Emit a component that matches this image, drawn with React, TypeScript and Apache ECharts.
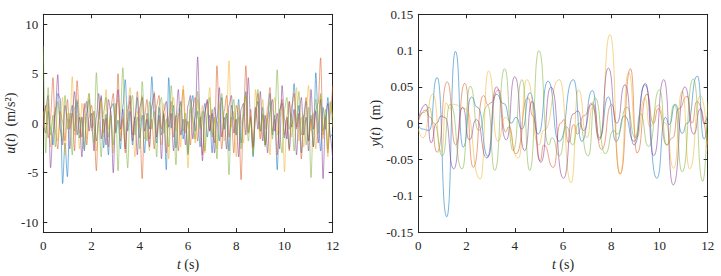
import React, { useEffect, useRef } from 'react';
import * as echarts from 'echarts';

const COLORS = ['#0072BD', '#D95319', '#EDB120', '#7E2F8E', '#77AC30'];
const RUN_NAMES = ['run 1', 'run 2', 'run 3', 'run 4', 'run 5'];
const T_TICKS = [0, 2, 4, 6, 8, 10, 12];
const U_TICKS = [-10, -5, 0, 5, 10];
const Y_TICKS = [-0.15, -0.1, -0.05, 0, 0.05, 0.1, 0.15];
const U_DT = 0.1; // sample spacing of input records (s)

// input acceleration records u(t), one value per 0.1 s from t = 0 to 12 s
const uBlue = [0.3, -1.0, 1.2, -0.5, -2.2, 0.8, 3.0, 2.5, -6.1, -2.0, -5.4, 0.5, 1.8, -0.8, 2.2, -1.5, 0.6, -2.8, 1.0, 2.4, -0.5, 1.2, -1.8, 0.4, 2.8, -2.5, 0.9, -3.2, 1.5, 2.0, -1.0, 0.3, -2.6, 1.8, 4.4, -0.8, 1.2, -2.2, 0.5, 2.6, -1.5, 0.8, -3.0, 1.0, -0.6, 4.7, 0.5, -2.0, 1.6, -1.2, 0.8, -4.7, 4.6, -0.5, 1.8, -2.5, 0.6, 2.2, -1.6, 0.4, -3.2, 1.4, 2.8, -0.8, 1.2, -2.4, 0.5, 2.0, -1.4, 0.8, -3.0, 1.6, 0.2, -1.8, 2.6, -0.6, 1.0, -2.8, 1.8, 0.4, -1.2, 2.4, -2.0, 0.8, 3.2, -1.0, 0.6, -3.4, 1.2, 2.2, -0.8, 1.6, -2.2, 0.4, 3.0, -1.2, 0.8, -4.7, 1.4, 2.0, -1.5, 0.6, -2.6, 1.0, 4.0, -0.4, 1.8, -3.0, 0.5, 2.2, -1.8, 0.8, -2.4, 5.1, 0.2, -2.8, 1.6, -0.6, 2.6, -1.4, -1.0];
const uOrange = [-0.5, 1.8, -1.5, 0.6, 4.6, -0.8, -2.6, 1.2, 0.2, -1.8, 2.4, -0.6, 1.0, -2.8, 4.3, 0.8, -1.4, 2.0, -2.2, 0.6, 1.8, -0.4, -4.8, 1.2, 2.6, -1.0, 0.5, -2.4, 1.6, 3.0, -0.8, 5.0, -1.8, 0.4, -3.0, 1.4, 2.2, -1.2, 0.6, 3.2, -0.5, -5.6, 0.8, 2.4, -1.6, 0.4, -2.6, 1.8, 2.8, -0.6, 1.0, -3.0, 0.5, 2.2, -1.4, 0.8, -2.8, 1.4, 3.4, -1.0, 0.2, -2.2, 1.6, 2.6, -1.8, 0.6, -3.2, 1.0, 2.2, -0.8, 1.4, -2.0, 5.8, 0.4, -2.6, 1.2, 2.8, -1.4, 0.6, -3.0, 1.8, 0.8, -5.7, 0.6, 5.8, -1.0, 1.4, -2.6, 0.4, 3.0, -1.6, 0.8, -2.2, 1.6, 3.6, -0.8, 0.4, -3.2, 1.2, 2.4, -1.2, 0.6, -2.8, 1.8, 3.0, -0.6, 1.0, -3.6, 0.8, 2.6, -1.8, 0.4, -2.4, 1.4, 2.0, 6.6, -1.2, 0.6, -3.0, 1.0, 3.8];
const uYellow = [1.2, -0.8, 2.0, -2.4, 0.6, 1.6, -1.8, 0.4, 2.6, -3.2, 1.0, -0.4, 4.7, -1.2, 0.8, -2.6, 2.0, 0.6, -1.6, 3.0, -0.8, 1.2, -2.8, 0.4, 2.2, -1.4, 3.4, -0.6, 0.8, -3.0, 1.6, 2.4, -1.2, 0.6, -2.4, 1.8, 3.6, -0.4, -3.4, 1.2, 0.2, 2.8, -1.6, 0.8, -2.8, 1.4, 3.2, -1.0, 0.4, -2.2, 2.0, 0.6, -3.6, 1.2, 2.6, -0.8, 1.0, -2.4, 3.8, 0.2, -4.5, 1.4, 0.6, -2.0, 2.4, -0.6, 1.8, -3.0, 0.8, 3.6, -1.2, 0.4, -2.6, 1.6, 2.2, -1.8, 0.6, 6.3, -0.4, 1.2, -3.4, 1.8, 0.4, -2.0, 2.8, -1.0, 0.8, -2.8, 3.4, 0.2, -1.6, 2.4, -0.6, 1.0, -3.2, 1.4, 2.6, -1.2, 0.6, 1.8, -4.9, 0.8, 2.2, -1.4, 0.4, 3.6, -1.8, 0.6, -2.4, 1.2, 3.8, -0.8, 1.0, -2.6, 0.4, 2.8, -1.6, 0.8, -3.4, 2.0, 0.6];
const uPurple = [-0.4, 1.6, 2.8, -4.5, -1.0, 1.2, 4.9, -0.6, -2.2, 1.8, 0.4, -2.6, 1.0, 3.2, -1.2, 0.6, -3.4, 1.4, 2.2, -0.8, 1.0, -2.8, 0.6, 3.0, -1.6, 0.4, -2.2, 2.4, 1.2, -5.0, 0.8, 3.4, -0.6, 1.4, -2.6, 0.2, 2.8, -1.8, 0.6, -3.2, 1.6, 2.6, -0.8, 0.4, -2.4, 1.8, 3.0, -1.4, 0.8, -3.6, 1.2, 2.2, -0.4, 1.0, -2.8, 0.6, 3.4, -1.2, 0.4, -2.2, 1.8, 2.8, -1.6, 0.6, 6.7, 0.8, -3.8, 1.2, 2.4, -0.8, 1.0, -3.0, 0.4, 3.6, -1.4, 0.6, -2.6, 1.8, 2.8, -1.0, 0.4, -3.4, 1.4, 2.0, -1.2, 4.6, 0.2, -2.4, 1.6, -0.6, 3.2, -1.8, 0.8, -3.0, 1.2, 2.4, -0.8, 1.0, -2.6, 3.8, 0.4, -1.6, 2.2, -0.4, 1.4, -3.2, 0.8, 2.6, -1.2, 0.6, -2.8, 3.4, -0.6, 1.2, -2.0, 2.4, -5.6, 0.6, 2.0, -1.4, -3.6];
const uGreen = [7.8, -3.0, 3.6, -1.2, 0.8, -2.4, 2.2, 0.4, -1.8, 2.8, -0.6, 1.0, -3.2, 1.6, 2.4, -1.0, 0.6, -2.6, 1.8, 3.0, -0.4, -2.0, 5.1, 0.2, -3.4, 1.2, 2.6, -1.4, 0.8, -2.2, 2.0, -4.8, 1.0, 5.6, -0.8, -4.5, 1.6, 2.8, -1.2, 0.6, -2.6, 4.2, 0.4, -1.8, 2.2, -0.6, 1.2, -3.4, 1.8, 2.6, -1.0, 0.4, -2.4, 3.8, 0.6, -4.2, 1.4, 2.0, -0.8, 1.0, -3.0, 2.4, 0.2, -1.6, 3.2, -0.4, 1.2, -2.8, 0.8, 2.6, -1.4, 0.6, -3.6, 1.8, 3.0, -0.6, 1.0, -5.2, 0.8, 2.4, -1.2, 0.6, -2.6, 1.6, 2.8, -1.8, 0.4, -3.2, 1.2, 3.4, -0.8, 1.0, -2.4, 0.6, 2.2, -1.6, 0.8, 5.4, -1.0, -3.0, 1.4, 2.6, -0.6, 1.0, -2.8, 0.4, 3.2, -1.2, 0.8, -2.2, 1.6, -5.5, 0.6, 2.4, -1.0, 3.0, -0.8, 1.4, -2.6, 2.2, -0.4];

// response records y(t): [t (s), y (m)] read at turning points
const yBlue = [[0, -0.002], [0.15, -0.008], [0.45, -0.01], [0.78, 0.063], [1.18, -0.129], [1.54, 0.099], [1.86, -0.033], [2.2, 0.036], [2.45, 0.022], [2.9, -0.046], [3.22, 0.04], [3.55, 0.027], [3.85, 0.0], [4.05, 0.008], [4.3, -0.008], [4.63, 0.042], [4.97, -0.015], [5.38, 0.058], [5.84, -0.025], [6.43, 0.06], [6.78, -0.025], [7.22, 0.045], [7.52, -0.02], [7.88, 0.036], [8.2, -0.025], [8.55, 0.01], [8.95, -0.025], [9.4, 0.053], [9.89, -0.076], [10.25, 0.008], [10.4, -0.002], [10.66, 0.026], [10.94, -0.014], [11.15, 0.0], [11.57, 0.065], [11.85, -0.022], [12, 0.002]];
const yOrange = [[0, 0.002], [0.3, 0.018], [0.5, 0.008], [0.78, -0.04], [1.2, 0.057], [1.55, -0.03], [1.93, 0.055], [2.28, -0.061], [2.7, 0.038], [2.9, 0.025], [3.0, 0.028], [3.33, 0.046], [3.62, -0.012], [3.75, -0.005], [4.05, -0.042], [4.55, 0.035], [4.75, 0.01], [5.05, -0.052], [5.2, -0.03], [5.6, -0.061], [5.9, 0.0], [6.05, 0.005], [6.22, -0.027], [6.45, -0.002], [6.6, -0.015], [6.85, 0.01], [7.22, 0.028], [7.6, -0.036], [8.02, 0.026], [8.37, -0.07], [8.8, 0.075], [9.07, -0.041], [9.48, 0.04], [9.75, 0.0], [9.95, 0.02], [10.3, -0.03], [10.55, -0.02], [10.8, 0.02], [11.15, 0.037], [11.35, 0.0], [11.55, 0.03], [12, -0.038]];
const yYellow = [[0, -0.008], [0.2, -0.02], [0.6, 0.04], [0.97, -0.04], [1.15, 0.028], [1.3, 0.02], [1.45, 0.026], [1.95, 0.02], [2.57, -0.077], [2.91, 0.072], [3.3, -0.025], [3.6, 0.008], [4.15, -0.048], [4.5, 0.06], [5.0, -0.03], [5.2, -0.01], [5.85, 0.06], [6.34, -0.082], [6.64, 0.046], [7.0, -0.02], [7.22, 0.022], [7.52, -0.02], [7.95, 0.122], [8.37, -0.07], [8.72, 0.07], [9.05, -0.02], [9.4, 0.035], [9.6, -0.005], [9.95, 0.025], [10.25, 0.0], [10.59, -0.062], [10.94, 0.044], [11.25, -0.063], [11.7, 0.038], [12, -0.03]];
const yPurple = [[0, 0.005], [0.32, 0.026], [0.53, -0.027], [0.75, 0.0], [0.95, 0.01], [1.1, 0.008], [1.47, -0.063], [1.84, 0.022], [2.12, -0.023], [2.4, 0.005], [2.85, -0.048], [3.24, 0.05], [3.65, -0.023], [4.0, 0.064], [4.41, -0.038], [4.72, 0.03], [5.08, -0.054], [5.5, 0.05], [6.02, -0.076], [6.43, 0.013], [6.62, 0.017], [6.85, -0.01], [7.2, 0.026], [7.51, -0.023], [7.88, 0.076], [8.23, 0.0], [8.57, 0.053], [8.95, -0.03], [9.42, 0.055], [9.76, -0.045], [10.18, 0.06], [10.57, -0.085], [11.05, 0.05], [11.42, -0.015], [11.7, 0.02], [11.85, 0.0], [12, 0.012]];
const yGreen = [[0, 0.008], [0.25, 0.015], [0.45, 0.022], [0.65, 0.0], [1.0, -0.045], [1.32, 0.026], [1.82, -0.063], [2.15, 0.051], [2.5, -0.01], [2.88, 0.024], [3.17, -0.065], [3.58, 0.075], [3.93, -0.038], [4.3, 0.06], [4.62, -0.065], [5.0, 0.1], [5.4, -0.03], [5.55, -0.02], [5.85, -0.045], [6.15, -0.005], [6.4, -0.03], [6.65, 0.0], [7.05, -0.045], [7.33, 0.035], [7.75, -0.042], [8.1, -0.01], [8.25, -0.015], [8.65, 0.022], [9.0, -0.02], [9.2, 0.013], [9.55, -0.032], [10.0, 0.046], [10.3, -0.03], [10.62, 0.026], [10.94, -0.067], [11.4, 0.061], [11.8, -0.08], [12, 0.03]];

const U_RUNS = [uBlue, uOrange, uYellow, uPurple, uGreen];
const Y_RUNS = [yBlue, yOrange, yYellow, yPurple, yGreen];

const FONT = "'Liberation Serif', 'Times New Roman', serif";
const INK = '#262626';

const GRID_TOP = 14.3;
const GRID_H = 224;
const GRID_W = 289.4;
const TICK_FS = 13;
const NAME_FS = 14;

function nameStyle() {
  return {
    fontFamily: FONT, fontSize: NAME_FS, color: INK,
    rich: {
      i: { fontFamily: FONT, fontSize: NAME_FS, fontStyle: 'italic', color: INK },
      n: { fontFamily: FONT, fontSize: NAME_FS, color: INK },
    },
  };
}

function xAxes(gridIndex: number) {
  const base = {
    type: 'value' as const,
    gridIndex,
    min: 0,
    max: 12,
    interval: 2,
    splitLine: { show: false },
    axisLine: { show: true, onZero: false, lineStyle: { color: INK, width: 1 } },
    axisTick: { show: true, inside: true, length: 4, lineStyle: { color: INK, width: 1 } },
  };
  return [
    {
      ...base,
      position: 'bottom',
      axisLabel: { show: true, margin: 7, fontFamily: FONT, fontSize: TICK_FS, color: INK },
      name: '{i|t}{n| (s)}',
      nameLocation: 'middle',
      nameGap: 20,
      nameTextStyle: nameStyle(),
    },
    { ...base, position: 'top', axisLabel: { show: false } },
  ];
}

function yAxes(gridIndex: number, min: number, max: number, ticks: number[], name: string, nameGap: number, fmt: (v: number) => string) {
  const base = {
    type: 'value' as const,
    gridIndex,
    min,
    max,
    splitLine: { show: false },
    axisLine: { show: true, onZero: false, lineStyle: { color: INK, width: 1 } },
    axisTick: { show: true, inside: true, length: 4, customValues: ticks, lineStyle: { color: INK, width: 1 } },
  };
  return [
    {
      ...base,
      position: 'left',
      axisLabel: { show: true, margin: 5, customValues: ticks, formatter: fmt, fontFamily: FONT, fontSize: TICK_FS, color: INK },
      name,
      nameLocation: 'middle',
      nameGap,
      nameRotate: 90,
      nameTextStyle: nameStyle(),
    },
    { ...base, position: 'right', axisLabel: { show: false } },
  ];
}

export default function App() {
  const ref = useRef<HTMLDivElement>(null);
  useEffect(() => {
    if (!ref.current) return;
    const chart = echarts.init(ref.current, undefined, { renderer: 'svg' });
    const series: any[] = [];
    U_RUNS.forEach((vals, k) => {
      series.push({
        name: RUN_NAMES[k],
        type: 'line',
        xAxisIndex: 0,
        yAxisIndex: 0,
        data: vals.map((v, i) => [i * U_DT, v]),
        symbol: 'none',
        smooth: 0.3,
        smoothMonotone: 'x',
        lineStyle: { color: COLORS[k], width: 0.7, opacity: 0.75 },
        itemStyle: { color: COLORS[k] },
        silent: true,
      });
    });
    Y_RUNS.forEach((pts, k) => {
      series.push({
        name: RUN_NAMES[k],
        type: 'line',
        xAxisIndex: 2,
        yAxisIndex: 2,
        data: pts,
        symbol: 'none',
        smooth: 0.6,
        smoothMonotone: 'x',
        lineStyle: { color: COLORS[k], width: 0.7, opacity: 0.75 },
        itemStyle: { color: COLORS[k] },
        silent: true,
      });
    });
    chart.setOption({
      animation: false,
      backgroundColor: '#ffffff',
      textStyle: { fontFamily: FONT },
      grid: [
        { left: 43.3, top: GRID_TOP, width: GRID_W, height: GRID_H },
        { left: 418.3, top: GRID_TOP, width: GRID_W, height: GRID_H },
      ],
      xAxis: [...xAxes(0), ...xAxes(1)],
      yAxis: [
        ...yAxes(0, -11, 11, U_TICKS, '{i|u}{n|(}{i|t}{n|)  (m/s²)}', 19, (v: number) => String(v)),
        ...yAxes(1, -0.15, 0.15, Y_TICKS, '{i|y}{n|(}{i|t}{n|)  (m)}', 28, (v: number) => String(Number(v.toFixed(2)))),
      ],
      series,
    });
    return () => chart.dispose();
  }, []);
  return (
    <div style={{ position: 'absolute', left: 0, top: 0, width: 721, height: 276, background: '#fff' }}>
      <div ref={ref} style={{ width: 721, height: 276 }} />
    </div>
  );
}
